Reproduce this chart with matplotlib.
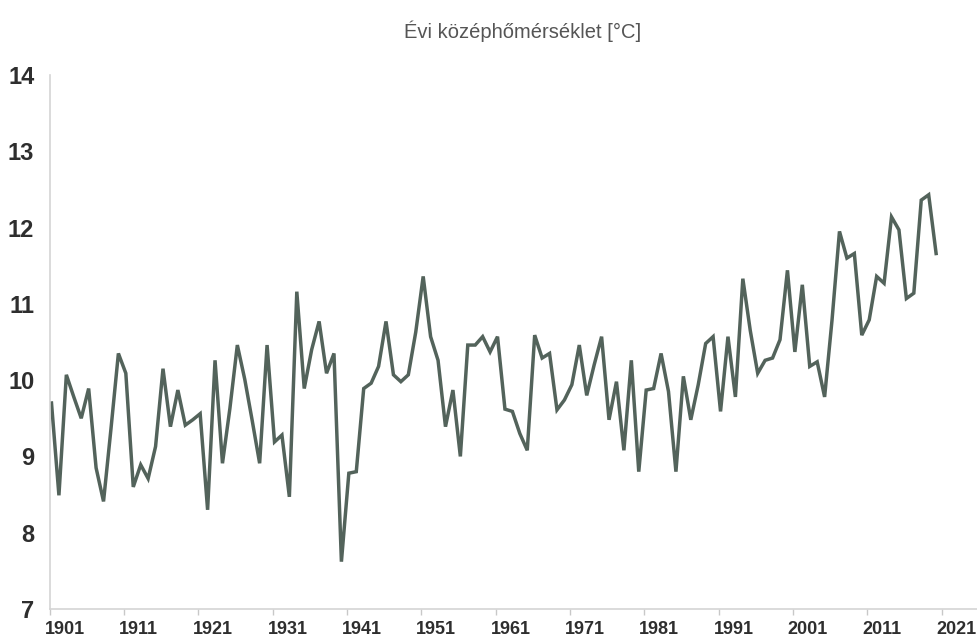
import matplotlib
matplotlib.use("Agg")
import matplotlib.pyplot as plt
from matplotlib import font_manager

years = list(range(1901, 2021))
temps = [
    9.70, 8.49, 10.07, 9.78, 9.50, 9.89, 8.85, 8.41, 9.36, 10.35,   # 1901-1910
    10.09, 8.60, 8.89, 8.71, 9.13, 10.15, 9.39, 9.87, 9.41, 9.48,   # 1911-1920
    9.56, 8.30, 10.26, 8.91, 9.63, 10.46, 10.01, 9.47, 8.91, 10.46, # 1921-1930
    9.19, 9.28, 8.47, 11.16, 9.89, 10.40, 10.77, 10.09, 10.35, 7.62,# 1931-1940
    8.78, 8.80, 9.89, 9.96, 10.18, 10.77, 10.07, 9.98, 10.07, 10.63,# 1941-1950
    11.36, 10.57, 10.26, 9.39, 9.87, 9.00, 10.46, 10.46, 10.57, 10.37,# 1951-1960
    10.57, 9.62, 9.59, 9.30, 9.08, 10.59, 10.29, 10.35, 9.61, 9.74, # 1961-1970
    9.94, 10.46, 9.80, 10.20, 10.57, 9.48, 9.98, 9.08, 10.26, 8.80, # 1971-1980
    9.87, 9.89, 10.35, 9.85, 8.80, 10.05, 9.48, 9.94, 10.48, 10.57, # 1981-1990
    9.59, 10.57, 9.78, 11.33, 10.65, 10.09, 10.26, 10.29, 10.53, 11.44,# 1991-2000
    10.37, 11.25, 10.18, 10.24, 9.78, 10.79, 11.95, 11.60, 11.66, 10.59,# 2001-2010
    10.79, 11.36, 11.27, 12.14, 11.97, 11.07, 11.14, 12.36, 12.43, 11.66,# 2011-2020
]
tick_years = [1901, 1911, 1921, 1931, 1941, 1951, 1961, 1971, 1981, 1991, 2001, 2011, 2021]
y_ticks = [7, 8, 9, 10, 11, 12, 13, 14]
title = "Évi középhőmérséklet [°C]"

names = {f.name for f in font_manager.fontManager.ttflist}
narrow = "Liberation Sans Narrow" if "Liberation Sans Narrow" in names else "Liberation Sans"
fam = [narrow, "DejaVu Sans"]

fig = plt.figure(figsize=(9.77, 6.38), dpi=100)
ax = fig.add_axes([0.0508, 0.0455, 0.9492, 0.8369])

ax.plot(years, temps, color="#53635b", linewidth=2.5, solid_joinstyle="miter")

ax.set_xlim(1900.75, 2025.5)
ax.set_ylim(7, 14)

for s in ["top", "right"]:
    ax.spines[s].set_visible(False)
for s in ["left", "bottom"]:
    ax.spines[s].set_color("#d4d4d4")
    ax.spines[s].set_linewidth(1.2)

# tick marks (between categories) and labels
ax.set_xticks([t - 0.25 for t in tick_years], minor=True)
ax.set_xticks([t + 1.75 for t in tick_years])
ax.set_xticklabels([str(t) for t in tick_years])
ax.tick_params(axis="x", which="minor", length=4, color="#c8c8c8", width=1)
ax.tick_params(axis="x", which="major", length=0, pad=9, labelsize=13, labelcolor="#2e2e2e")

ax.set_yticks(y_ticks)
ax.set_yticklabels([str(v) for v in y_ticks])
ax.tick_params(axis="y", length=0, pad=11, labelsize=17, labelcolor="#2e2e2e")

for lab in ax.get_xticklabels() + ax.get_yticklabels():
    lab.set_family(fam)
    lab.set_fontweight("bold")

fig.text(0.535, 0.951, title, ha="center", va="center", fontsize=14.5,
         color="#555555", family=fam)

fig.savefig("out.png", dpi=100, facecolor="white")
